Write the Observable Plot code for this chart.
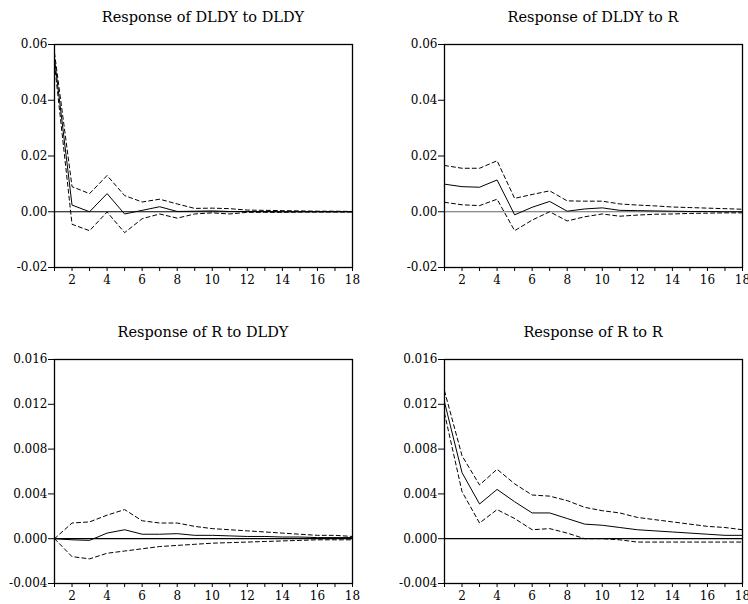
<!DOCTYPE html>
<html>
<head>
<meta charset="utf-8">
<script src="https://cdn.jsdelivr.net/npm/d3@7"></script>
<script src="https://cdn.jsdelivr.net/npm/@observablehq/plot@0.6"></script>
<style>
  html, body { margin: 0; padding: 0; background: #fff; }
  #wrap { position: relative; width: 748px; height: 604px; overflow: hidden; background: #fff; }
  .panel { position: absolute; width: 374px; height: 302px; }
  .panel svg { position: absolute; left: 0; top: 0; }
  .title { position: absolute; font-family: "DejaVu Serif", serif; font-size: 14.5px; color: #000; white-space: nowrap; transform: translateX(-50%); line-height: 1; }
</style>
</head>
<body>
<div id="wrap"></div>
<script>
// Periods
const periods = d3.range(1, 19);

// Response of DLDY to DLDY
const dldyDldyResp  = [0.055, 0.0024, 0.0000, 0.0065, -0.0008, 0.0005, 0.0018, 0.0001, 0.0002, 0.0003, 0.0001, 0.0001, 0.0001, 0.0000, 0.0000, 0.0000, 0.0000, 0.0000];
const dldyDldyUpper = [0.057, 0.0090, 0.0065, 0.0130, 0.0058, 0.0035, 0.0045, 0.0028, 0.0012, 0.0013, 0.0011, 0.0006, 0.0005, 0.0004, 0.0003, 0.0002, 0.0002, 0.0001];
const dldyDldyLower = [0.053, -0.0045, -0.0068, -0.0001, -0.0075, -0.0025, -0.0008, -0.0023, -0.0008, -0.0004, -0.0008, -0.0002, -0.0002, -0.0002, -0.0001, -0.0001, -0.0001, -0.0001];

// Response of DLDY to R
const dldyRResp  = [0.0099, 0.0090, 0.0088, 0.0114, -0.0011, 0.0016, 0.0037, 0.0002, 0.0010, 0.0014, 0.0005, 0.0004, 0.0003, 0.0002, 0.0001, 0.0001, 0.0000, 0.0000];
const dldyRUpper = [0.0166, 0.0156, 0.0156, 0.0183, 0.0048, 0.0062, 0.0075, 0.0039, 0.0038, 0.0038, 0.0028, 0.0024, 0.0021, 0.0017, 0.0015, 0.0013, 0.0011, 0.0009];
const dldyRLower = [0.0034, 0.0025, 0.0022, 0.0045, -0.0068, -0.0030, 0.0000, -0.0033, -0.0018, -0.0008, -0.0016, -0.0012, -0.0009, -0.0008, -0.0006, -0.0005, -0.0004, -0.0004];

// Response of R to DLDY
const rDldyResp  = [0.0000, -0.0001, -0.00015, 0.0005, 0.0008, 0.0004, 0.0004, 0.00045, 0.0003, 0.0003, 0.00025, 0.0002, 0.0002, 0.00015, 0.00015, 0.0001, 0.0001, 0.0001];
const rDldyUpper = [0.0000, 0.0014, 0.0015, 0.0021, 0.0026, 0.0016, 0.0014, 0.0014, 0.0011, 0.0009, 0.0008, 0.0007, 0.0006, 0.0005, 0.0004, 0.0003, 0.0003, 0.0002];
const rDldyLower = [0.0000, -0.0016, -0.0018, -0.0013, -0.0011, -0.0009, -0.0007, -0.0006, -0.0005, -0.0004, -0.00035, -0.0003, -0.00025, -0.0002, -0.00015, -0.0001, -0.0001, -0.0001];

// Response of R to R
const rRResp  = [0.0122, 0.0059, 0.0031, 0.0044, 0.0033, 0.0023, 0.0023, 0.0018, 0.0013, 0.0012, 0.0010, 0.0008, 0.0007, 0.0006, 0.0005, 0.0004, 0.0003, 0.0003];
const rRUpper = [0.0132, 0.0074, 0.0048, 0.0062, 0.0049, 0.0039, 0.0038, 0.0034, 0.0028, 0.0025, 0.0023, 0.0019, 0.0017, 0.0015, 0.0013, 0.0011, 0.0010, 0.0008];
const rRLower = [0.0112, 0.0042, 0.0014, 0.0026, 0.0018, 0.0008, 0.0009, 0.0005, 0.0000, 0.0000, -0.0001, -0.0003, -0.0003, -0.0003, -0.0003, -0.0003, -0.0003, -0.0003];

// Tick values
const xTicks = periods;
const yTicksTop = [-0.02, 0.00, 0.02, 0.04, 0.06];
const yTicksBottom = [-0.004, 0.000, 0.004, 0.008, 0.012, 0.016];

const titles = ["Response of DLDY to DLDY", "Response of DLDY to R", "Response of R to DLDY", "Response of R to R"];

const panels = [
  {title: titles[0], resp: dldyDldyResp, upper: dldyDldyUpper, lower: dldyDldyLower, yTicks: yTicksTop, digits: 2, zero: "#000",
   left: 0, top: 0, mt: 44, mb: 35, ml: 54, mr: 22},
  {title: titles[1], resp: dldyRResp, upper: dldyRUpper, lower: dldyRLower, yTicks: yTicksTop, digits: 2, zero: "#666",
   left: 374, top: 0, mt: 44, mb: 35, ml: 70, mr: 6},
  {title: titles[2], resp: rDldyResp, upper: rDldyUpper, lower: rDldyLower, yTicks: yTicksBottom, digits: 3, zero: "#000",
   left: 0, top: 302, mt: 57, mb: 21, ml: 54, mr: 22},
  {title: titles[3], resp: rRResp, upper: rRUpper, lower: rRLower, yTicks: yTicksBottom, digits: 3, zero: "#000",
   left: 374, top: 302, mt: 57, mb: 21, ml: 70, mr: 6}
];

const wrap = document.getElementById("wrap");
for (const p of panels) {
  const data = periods.map((t, i) => ({t, resp: p.resp[i], upper: p.upper[i], lower: p.lower[i]}));
  const div = document.createElement("div");
  div.className = "panel";
  div.style.left = p.left + "px";
  div.style.top = p.top + "px";
  const chart = Plot.plot({
    width: 374, height: 302,
    marginTop: p.mt, marginBottom: p.mb, marginLeft: p.ml, marginRight: p.mr,
    style: {fontFamily: "DejaVu Serif, serif", fontSize: "12px", color: "#000", background: "transparent", overflow: "visible"},
    x: {domain: [1, 18]},
    y: {domain: [p.yTicks[0], p.yTicks[p.yTicks.length - 1]]},
    marks: [
      Plot.ruleY([0], {stroke: p.zero, strokeWidth: 1.2}),
      Plot.line(data, {x: "t", y: "upper", stroke: "#000", strokeWidth: 1, strokeDasharray: "4,3"}),
      Plot.line(data, {x: "t", y: "lower", stroke: "#000", strokeWidth: 1, strokeDasharray: "4,3"}),
      Plot.line(data, {x: "t", y: "resp", stroke: "#000", strokeWidth: 1}),
      Plot.frame({stroke: "#000", strokeWidth: 1.3}),
      Plot.axisX({ticks: xTicks, tickFormat: d => d % 2 === 0 ? String(d) : "", tickSize: 4, tickPadding: 4, label: null, stroke: "#000"}),
      Plot.axisY({ticks: p.yTicks, tickFormat: d => d.toFixed(p.digits), tickSize: 6, tickPadding: 1, label: null, stroke: "#000"})
    ]
  });
  div.appendChild(chart);
  const t = document.createElement("div");
  t.className = "title";
  t.textContent = p.title;
  t.style.left = (p.ml + (374 - p.ml - p.mr) / 2) + "px";
  t.style.top = (p.mt - 34) + "px";
  div.appendChild(t);
  wrap.appendChild(div);
}
</script>
</body>
</html>
